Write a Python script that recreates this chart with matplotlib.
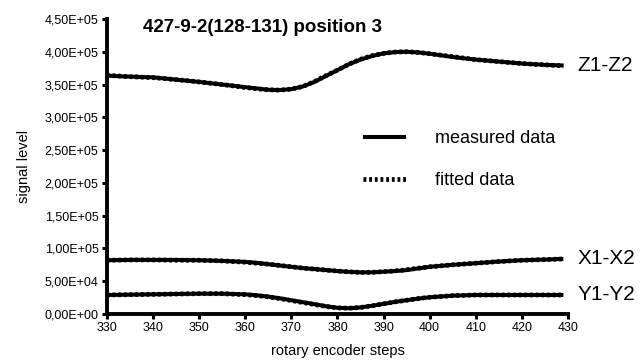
import matplotlib
matplotlib.use("Agg")
import matplotlib.pyplot as plt
from matplotlib.ticker import FuncFormatter, MultipleLocator

plt.rcParams['font.family'] = ['Liberation Sans', 'DejaVu Sans']

steps = [330, 335, 340, 345, 350, 355, 360, 362.5, 365, 367.5, 370, 372.5, 375, 377.5,
         380, 382.5, 385, 387.5, 390, 392.5, 395, 397.5, 400, 405, 410, 415, 420, 425, 429]

z_measured = [3.635, 3.62, 3.61, 3.575, 3.54, 3.50, 3.46, 3.44, 3.42, 3.415, 3.43, 3.47,
              3.54, 3.63, 3.72, 3.81, 3.88, 3.935, 3.975, 3.995, 4.00, 3.99, 3.97,
              3.92, 3.88, 3.85, 3.82, 3.80, 3.79]
z_fitted = [3.64, 3.62, 3.605, 3.575, 3.54, 3.50, 3.455, 3.435, 3.42, 3.415, 3.43, 3.47,
            3.545, 3.635, 3.72, 3.81, 3.885, 3.94, 3.975, 3.995, 4.00, 3.99, 3.97,
            3.925, 3.88, 3.85, 3.82, 3.80, 3.785]

x_measured = [0.82, 0.825, 0.825, 0.825, 0.82, 0.81, 0.795, 0.78, 0.76, 0.74, 0.72, 0.70,
              0.685, 0.67, 0.655, 0.643, 0.635, 0.636, 0.645, 0.655, 0.67, 0.695, 0.72,
              0.75, 0.775, 0.80, 0.82, 0.83, 0.84]
x_fitted = [0.82, 0.825, 0.825, 0.82, 0.82, 0.81, 0.79, 0.775, 0.76, 0.74, 0.72, 0.70,
            0.685, 0.67, 0.655, 0.643, 0.635, 0.636, 0.645, 0.657, 0.675, 0.698, 0.72,
            0.75, 0.775, 0.80, 0.82, 0.83, 0.84]

y_measured = [0.29, 0.295, 0.30, 0.305, 0.31, 0.31, 0.30, 0.285, 0.265, 0.24, 0.21,
              0.18, 0.15, 0.118, 0.095, 0.088, 0.10, 0.125, 0.155, 0.185, 0.21, 0.235,
              0.255, 0.28, 0.29, 0.29, 0.29, 0.29, 0.29]
y_fitted = [0.29, 0.295, 0.30, 0.305, 0.31, 0.31, 0.295, 0.28, 0.26, 0.235, 0.205,
            0.175, 0.145, 0.115, 0.093, 0.088, 0.10, 0.125, 0.155, 0.185, 0.21, 0.235,
            0.255, 0.28, 0.29, 0.29, 0.29, 0.29, 0.29]

scale = 1e5
curve_labels = ["Z1-Z2", "X1-X2", "Y1-Y2"]
title = "427-9-2(128-131) position 3"

fig = plt.figure(figsize=(6.4, 3.62), dpi=100)
ax = fig.add_axes([0.167, 0.1326, 0.7205, 0.815])

series = [(z_measured, z_fitted), (x_measured, x_fitted), (y_measured, y_fitted)]
for i, (m, f) in enumerate(series):
    ax.plot(steps, [v * scale for v in m], color='black', lw=2.9, solid_capstyle='butt',
            solid_joinstyle='round',
            label='measured data' if i == 0 else None, zorder=3)
    ax.plot(steps, [v * scale for v in f], color='black', lw=3.4,
            linestyle=(0, (0.6, 0.6)), dash_capstyle='butt',
            label='fitted data' if i == 0 else None, zorder=4)
    ax.annotate(curve_labels[i], xy=(steps[-1], m[-1] * scale), xytext=(10, 0),
                textcoords='offset points', va='center', ha='left', fontsize=15)

ax.set_xlim(330, 430)
ax.set_ylim(0, 4.5e5)
ax.xaxis.set_major_locator(MultipleLocator(10))
ax.yaxis.set_major_locator(MultipleLocator(0.5e5))


def sci_comma(v, pos):
    s = "%.2E" % v
    return s.replace('.', ',')


ax.yaxis.set_major_formatter(FuncFormatter(sci_comma))

for side in ['top', 'right']:
    ax.spines[side].set_visible(False)
for side in ['left', 'bottom']:
    ax.spines[side].set_linewidth(2.8)
ax.tick_params(axis='both', direction='out', length=3.5, width=2.2, labelsize=9, pad=2.5)

ax.set_xlabel("rotary encoder steps", fontsize=10.5, labelpad=7)
ax.set_ylabel("signal level", fontsize=10.5, labelpad=10)

fig.text(143 / 640, 1 - 27 / 362, title, fontsize=13.5, fontweight='bold',
         ha='left', va='center')

leg = ax.legend(loc='upper left', bbox_to_anchor=(363 / 640, 1 - 130 / 362),
                bbox_transform=fig.transFigure, frameon=False, fontsize=13,
                handlelength=2.4, handletextpad=1.6, labelspacing=1.4, borderpad=0,
                borderaxespad=0)

fig.savefig("out.png", dpi=100)
